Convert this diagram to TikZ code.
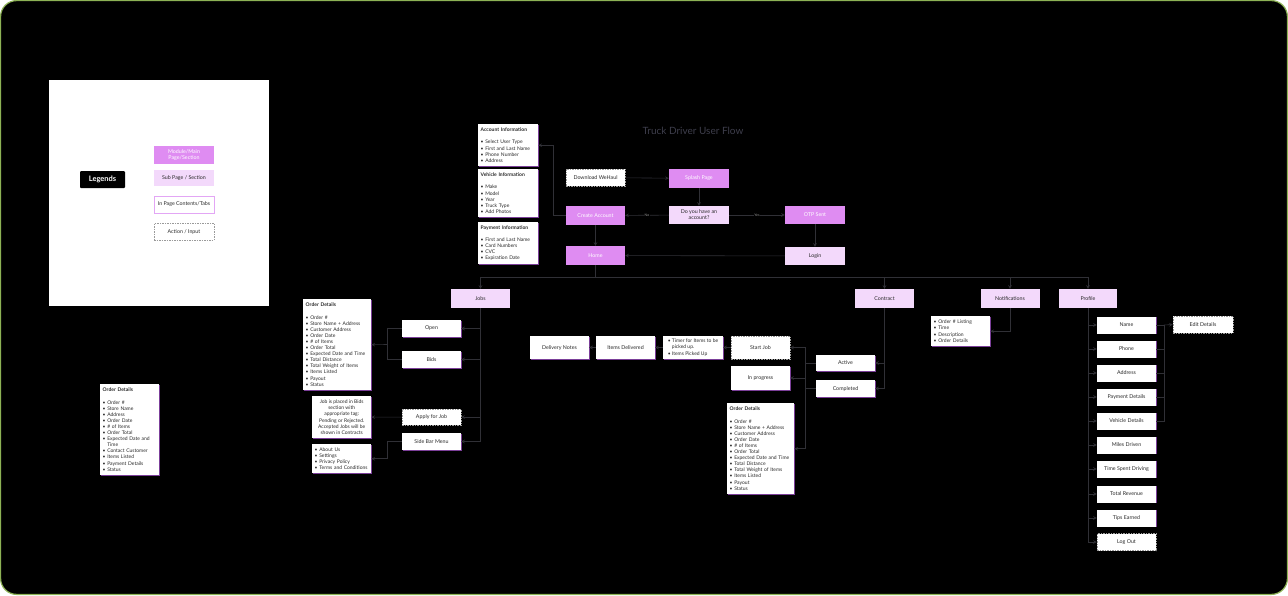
\documentclass[tikz,border=0pt]{standalone}
\usepackage{fontspec}
\setmainfont{Lato}
\usetikzlibrary{shadows}

\newlength{\du}
\setlength{\du}{1pt}

\definecolor{modfill}{HTML}{DF8CF2}
\definecolor{subfill}{HTML}{F3D9FB}
\definecolor{shadowpurple}{HTML}{7B3F99}
\definecolor{legendborder}{HTML}{E3A6F5}
\definecolor{actiongray}{HTML}{9A9A9A}
\definecolor{linegray}{HTML}{303036}
\definecolor{textdark}{HTML}{2A2A2A}
\definecolor{titlegray}{HTML}{3E3E4C}
\definecolor{framegreen}{HTML}{8DB255}

\newcommand{\itm}{\textbullet\ }
\newcommand{\hng}{\hphantom{\textbullet\ }}

\tikzset{
  box/.style={rectangle, inner sep=1.5\du, align=center, text=textdark,
    font=\fontsize{5.3}{6.1}\selectfont, minimum width=59\du, minimum height=17\du},
  module/.style={box, fill=modfill, text=white},
  subpage/.style={box, fill=subfill},
  content/.style={box, fill=white,
    drop shadow={shadow xshift=0.8\du, shadow yshift=-0.8\du, fill=shadowpurple, opacity=1}},
  action/.style={box, fill=white, draw=actiongray, line width=0.5\du,
    dash pattern=on 1.5\du off 1\du},
  listbox/.style={content, anchor=north west, align=left, inner xsep=2.5\du, text width=#1,
    font=\fontsize{5}{6.1}\selectfont},
  link/.style={draw=linegray, line width=0.6\du, -stealth},
  wire/.style={draw=linegray, line width=0.6\du},
  answer/.style={font=\fontsize{3.5}{4}\selectfont, text=actiongray, fill=black, inner sep=0.5\du},
}

\begin{document}
\begin{tikzpicture}[x=\du, y=-\du]
\useasboundingbox (0,0) rectangle (1288,595);
% frame
\fill[white] (0,0) rectangle (1288,595);
\draw[fill=black, draw=framegreen, line width=1.2\du, rounded corners=16\du] (0.6,0.6) rectangle (1287.4,594.4);

% legend panel
\fill[white] (49,80) rectangle (269,306);
\node[fill=black, text=white, rounded corners=1\du, font=\bfseries\fontsize{7.5}{9}\selectfont,
  minimum width=45\du, minimum height=17\du] (legends) at (102.5,179.5) {Legends};
\node[module, minimum width=60\du, minimum height=18\du] (legmod) at (184,155) {Module/Main\\Page/Section};
\node[subpage, minimum width=60\du, minimum height=16\du] (legsub) at (184,178) {Sub Page / Section};
\node[box, fill=white, draw=legendborder, line width=0.5\du, minimum width=60\du] (legtab) at (184,204.5) {In Page Contents/Tabs};
\node[action, minimum width=60\du] (legact) at (184,231.5) {Action / Input};

% title
\node[font=\fontsize{10}{12}\selectfont, text=titlegray] (title) at (693,131) {Truck Driver User Flow};

% onboarding
\node[listbox=55\du, minimum height=42\du] (acct) at (478,124) {\textbf{Account Information}\\[6.1pt]
  \itm Select User Type\\ \itm First and Last Name\\ \itm Phone Number\\ \itm Address};
\node[listbox=55\du, minimum height=48\du] (vehicle) at (478,169) {\textbf{Vehicle Information}\\[6.1pt]
  \itm Make\\ \itm Model\\ \itm Year\\ \itm Truck Type\\ \itm Add Photos};
\node[listbox=55\du, minimum height=42\du] (payment) at (478,222) {\textbf{Payment Information}\\[6.1pt]
  \itm First and Last Name\\ \itm Card Numbers\\ \itm CVC\\ \itm Expiration Date};

\node[action] (download) at (595.5,177.5) {Download WeHaul};
\node[module, minimum width=60\du, minimum height=19\du] (splash) at (699,178.5) {Splash Page};
\node[module, minimum height=19\du] (create) at (595.5,215.5) {Create Account};
\node[subpage, minimum width=60\du, minimum height=18\du] (question) at (699,215) {Do you have an\\account?};
\node[module, minimum width=60\du, minimum height=18\du] (otp) at (815,215) {OTP Sent};
\node[module, minimum height=19\du] (home) at (595.5,255.5) {Home};
\node[subpage, minimum width=60\du, minimum height=18\du] (login) at (815,256) {Login};

\draw[link] (download) -- (splash);
\draw[link] (splash) -- (question);
\draw[link] (question) -- node[answer] {No} (create);
\draw[link] (question) -- node[answer] {Yes} (otp);
\draw[link] (create.west) -- ++(-13,0) |- (acct.east);
\draw[link] (create) -- (home);
\draw[link] (otp) -- (login);
\draw[link] (login) -- (home);

% main tabs
\node[subpage, minimum height=19\du] (jobs) at (480.5,298.5) {Jobs};
\node[subpage, minimum height=19\du] (contract) at (884.5,298.5) {Contract};
\node[subpage, minimum height=19\du] (notif) at (1010,298.5) {Notifications};
\node[subpage, minimum width=58\du, minimum height=19\du] (profile) at (1088,298.5) {Profile};
\coordinate (tabbus) at (595.5,277);
\draw[wire] (home) -- (tabbus);
\foreach \t in {jobs,contract,notif,profile}
  \draw[link] (tabbus) -| (\t.north);

% jobs
\node[listbox=63\du, minimum height=91\du] (orders1) at (303,299) {\textbf{Order Details}\\[6.1pt]
  \itm Order \#\\ \itm Store Name + Address\\ \itm Customer Address\\ \itm Order Date\\
  \itm \# of Items\\ \itm Order Total\\ \itm Expected Date and Time\\ \itm Total Distance\\
  \itm Total Weight of Items\\ \itm Items Listed\\ \itm Payout\\ \itm Status};
\node[content] (open) at (431.5,328.5) {Open};
\node[content] (bids) at (431.5,359.5) {Bids};
\node[content, anchor=north west, minimum height=42\du, font=\fontsize{5}{6.1}\selectfont] (placed) at (312,396) {Job is placed in Bids\\section with\\appropriate tag:\\Pending or Rejected.\\Accepted Jobs will be\\shown  in Contracts};
\node[action, minimum height=16\du] (apply) at (431.5,417) {Apply for Job};
\node[content] (sidebar) at (431.5,441.5) {Side Bar Menu};
\node[listbox=54\du, minimum height=29\du] (menu) at (312,444) {\itm About Us\\ \itm Settings\\ \itm Privacy Policy\\ \itm Terms and Conditions};

\foreach \n in {open,bids,apply,sidebar}
  \draw[link] (jobs.south) |- (\n.east);
\coordinate (ordbus) at (387,344.5);
\draw[wire] (open.west) -| (ordbus);
\draw[wire] (bids.west) -| (ordbus);
\draw[link] (ordbus) -- (orders1.east);
\draw[link] (apply) -- (placed);
\draw[link] (sidebar.west) -- ++(-15,0) |- (menu.east);

% contract
\node[content, minimum height=23\du] (delnotes) at (559.5,347.5) {Delivery Notes};
\node[content, minimum height=23\du] (itemsdel) at (625.5,347.5) {Items Delivered};
\node[content, align=left, minimum width=60\du, minimum height=23\du, font=\fontsize{5}{6.1}\selectfont] (timer) at (693,347.5) {\itm Timer for Items to be\\\hng picked up.\\ \itm Items Picked Up};
\node[action, minimum height=23\du] (startjob) at (760.5,347.5) {Start Job};
\node[content, minimum height=24\du] (inprog) at (760.5,378) {In progress};
\node[listbox=62\du, minimum height=91\du] (orders2) at (727,403) {\textbf{Order Details}\\[6.1pt]
  \itm Order \#\\ \itm Store Name + Address\\ \itm Customer Address\\ \itm Order Date\\
  \itm \# of Items\\ \itm Order Total\\ \itm Expected Date and Time\\ \itm Total Distance\\
  \itm Total Weight of Items\\ \itm Items Listed\\ \itm Payout\\ \itm Status};
\node[content, minimum height=16\du] (active) at (845.5,363) {Active};
\node[content] (completed) at (845.5,388.5) {Completed};

\draw[link] (contract.south) |- (active.east);
\draw[link] (contract.south) |- (completed.east);
\coordinate (cbus) at (805,363);
\draw[wire] (active) -- (cbus);
\draw[wire] (completed.west) -| (cbus);
\draw[link] (cbus) |- (startjob.east);
\draw[link] (cbus) |- (inprog.east);
\draw[link] (cbus) |- (orders2.east);
\draw[link] (startjob) -- (timer);
\draw[link] (timer) -- (itemsdel);
\draw[link] (itemsdel) -- (delnotes);

% notifications
\node[listbox=54\du, minimum height=30\du] (notiflist) at (931,316) {\itm Order \# Listing\\ \itm Time\\ \itm Description\\ \itm Order Details};
\draw[link] (notif.south) |- (notiflist.east);

% profile
\foreach \nm/\txt/\y in {pname/Name/325, pphone/Phone/349, paddr/Address/373, ppay/Payment Details/397,
    pveh/Vehicle Details/421, pmiles/Miles Driven/445, ptime/Time Spent Driving/469,
    prev/Total Revenue/494, ptips/Tips Earned/518}
  \node[content] (\nm) at (1126.5,\y) {\txt};
\node[action] (plogout) at (1126.5,542) {Log Out};
\node[action, minimum width=60\du] (pedit) at (1203,324.5) {Edit Details};
\foreach \nm in {pname,pphone,paddr,ppay,pveh,pmiles,ptime,prev,ptips,plogout}
  \draw[link] (profile.south) |- (\nm.west);
\coordinate (pbus) at (1164,325);
\foreach \nm in {pname,pphone,paddr,ppay,pveh}
  \draw[wire] (\nm.east) -| (pbus);
\draw[link] (pbus) -- (pedit.west);

% order details (left)
\node[listbox=54\du, minimum height=91\du] (orders0) at (100,384) {\textbf{Order Details}\\[6.1pt]
  \itm Order \#\\ \itm Store Name\\ \itm Address\\ \itm Order Date\\ \itm \# of Items\\
  \itm Order Total\\ \itm Expected Date and\\\hng Time\\ \itm Contact Customer\\
  \itm Items Listed\\ \itm Payment Details\\ \itm Status};
\end{tikzpicture}
\end{document}
